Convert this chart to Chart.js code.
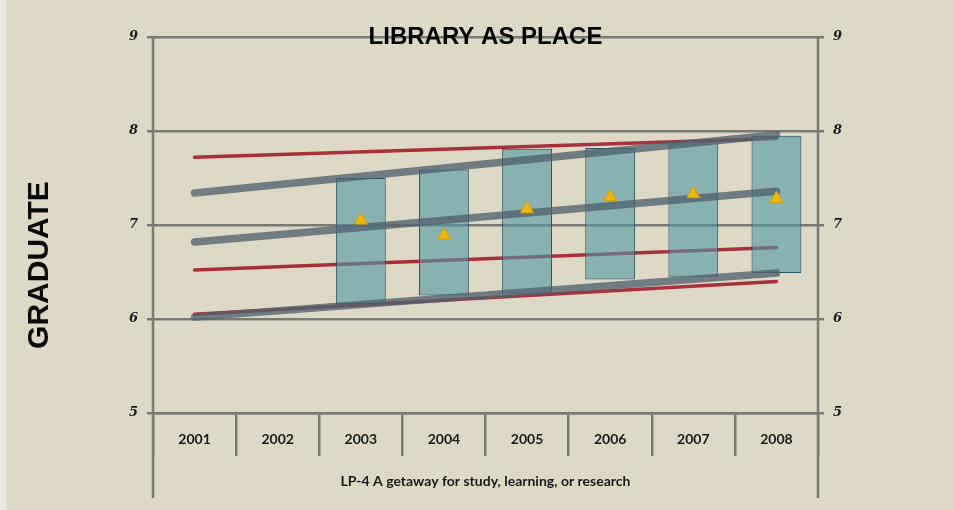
<!DOCTYPE html>
<html>
<head>
<meta charset="utf-8">
<title>Library as Place</title>
<script src="https://cdn.jsdelivr.net/npm/chart.js@4.4.0/dist/chart.umd.min.js"></script>
<style>
    html, body { margin: 0; padding: 0; background: #e9e7df; }
    #wrap { position: absolute; left: 6px; top: 0; width: 947px; height: 510px; }
</style>
</head>
<body>
<div id="wrap"><canvas id="placeChart"></canvas></div>
<script>
// Survey years
const years = ['2001', '2002', '2003', '2004', '2005', '2006', '2007', '2008'];

// Score range per year (floating bars)
const rangeLow  = [null, null, 6.16, 6.25, 6.27, 6.42, 6.45, 6.49];
const rangeHigh = [null, null, 7.50, 7.59, 7.81, 7.82, 7.89, 7.95];

// Mean score per year (triangles)
const meanScores = [null, null, 7.05, 6.89, 7.17, 7.30, 7.33, 7.28];

// Trend lines, only the 2001 and 2008 ends are known
const redTop    = [7.72, null, null, null, null, null, null, 7.92];
const redMiddle = [6.52, null, null, null, null, null, null, 6.76];
const redBottom = [6.05, null, null, null, null, null, null, 6.40];
const grayTop    = [7.34, null, null, null, null, null, null, 7.96];
const grayMiddle = [6.82, null, null, null, null, null, null, 7.36];
const grayBottom = [6.02, null, null, null, null, null, null, 6.49];

const yTicks = [5, 6, 7, 8, 9];

const axisColor = '#7a7a72';
const redColor = '#a8323c';
const grayColor = 'rgba(80, 98, 112, 0.78)';
const labelFont = 'Lato, "Open Sans", sans-serif';

function redLine(values) {
    return {
        type: 'line',
        data: values,
        borderColor: redColor,
        borderWidth: 3.5,
        borderCapStyle: 'round',
        pointRadius: 0,
        spanGaps: true,
        order: 3
    };
}

function grayLine(values) {
    return {
        type: 'line',
        data: values,
        borderColor: grayColor,
        borderWidth: 7.5,
        borderCapStyle: 'round',
        pointRadius: 0,
        spanGaps: true,
        order: 1
    };
}

// Beige backdrop, the long side rules and the rotated group label
const decorPlugin = {
    id: 'decor',
    beforeDraw(chart) {
        const ctx = chart.ctx;
        ctx.save();
        ctx.fillStyle = '#ddd9c4';
        ctx.fillRect(0, 0, chart.width, chart.height);
        ctx.restore();
    },
    afterDraw(chart) {
        const ctx = chart.ctx;
        const area = chart.chartArea;
        ctx.save();
        ctx.strokeStyle = axisColor;
        ctx.lineWidth = 2.5;
        [area.left, area.right].forEach(x => {
            ctx.beginPath();
            ctx.moveTo(x, area.top);
            ctx.lineTo(x, area.bottom + 85);
            ctx.stroke();
        });
        ctx.translate(34, 265);
        ctx.rotate(-Math.PI / 2);
        ctx.fillStyle = '#0a0a0a';
        ctx.font = 'bold 30px "Liberation Sans", Arial, sans-serif';
        ctx.textAlign = 'center';
        ctx.textBaseline = 'middle';
        ctx.fillText('GRADUATE', 0, 0);
        ctx.restore();
    }
};

const ctx = document.getElementById('placeChart').getContext('2d');
new Chart(ctx, {
    type: 'bar',
    data: {
        labels: years,
        datasets: [
            {
                type: 'line',
                data: meanScores,
                showLine: false,
                pointStyle: 'triangle',
                pointRadius: 7.5,
                pointBackgroundColor: '#f2b800',
                pointBorderColor: '#d9a200',
                pointBorderWidth: 1,
                order: 0
            },
            grayLine(grayTop),
            grayLine(grayMiddle),
            grayLine(grayBottom),
            {
                type: 'bar',
                data: years.map((y, i) => rangeLow[i] === null ? null : [rangeLow[i], rangeHigh[i]]),
                backgroundColor: 'rgba(80, 150, 165, 0.6)',
                borderColor: '#2c5566',
                borderWidth: 1,
                borderSkipped: false,
                categoryPercentage: 1,
                barPercentage: 0.6,
                order: 2
            },
            redLine(redTop),
            redLine(redMiddle),
            redLine(redBottom)
        ]
    },
    options: {
        responsive: true,
        maintainAspectRatio: false,
        animation: false,
        layout: { padding: 0 },
        plugins: {
            legend: { display: false },
            tooltip: { enabled: false },
            title: {
                display: true,
                text: 'LIBRARY AS PLACE',
                fullSize: false,
                color: '#000',
                font: { family: '"Liberation Sans", Arial, sans-serif', size: 24, weight: 'bold', lineHeight: 1.2 },
                padding: { top: 23, bottom: -14.8 }
            }
        },
        scales: {
            x: {
                offset: true,
                grid: {
                    offset: true,
                    drawOnChartArea: false,
                    tickLength: 43,
                    color: axisColor,
                    lineWidth: 2.5
                },
                border: { color: axisColor, width: 2.5 },
                ticks: {
                    color: '#1a1a1a',
                    padding: -25,
                    font: { family: labelFont, size: 14, weight: 'bold' }
                },
                title: {
                    display: true,
                    text: 'LP-4 A getaway for study, learning, or research',
                    color: '#1a1a1a',
                    font: { family: labelFont, size: 14, weight: 'bold' },
                    padding: { top: 0, bottom: 20 }
                },
                afterFit(scale) { scale.height = 97; }
            },
            y: {
                position: 'left',
                min: 5,
                max: 9,
                afterBuildTicks(scale) { scale.ticks = yTicks.map(v => ({ value: v })); },
                grid: { color: axisColor, lineWidth: 2.5, tickLength: 6 },
                border: { display: false },
                ticks: {
                    color: '#1a1a1a',
                    padding: 9,
                    font: { family: '"DejaVu Serif", serif', size: 13, weight: 'bold', style: 'italic' }
                },
                afterFit(scale) { scale.width = 147; }
            },
            y2: {
                position: 'right',
                min: 5,
                max: 9,
                afterBuildTicks(scale) { scale.ticks = yTicks.map(v => ({ value: v })); },
                grid: { drawOnChartArea: false, color: axisColor, lineWidth: 2.5, tickLength: 6 },
                border: { display: false },
                ticks: {
                    color: '#1a1a1a',
                    padding: 9,
                    font: { family: '"DejaVu Serif", serif', size: 13, weight: 'bold', style: 'italic' }
                },
                afterFit(scale) { scale.width = 135; }
            }
        }
    },
    plugins: [decorPlugin]
});
</script>
</body>
</html>
